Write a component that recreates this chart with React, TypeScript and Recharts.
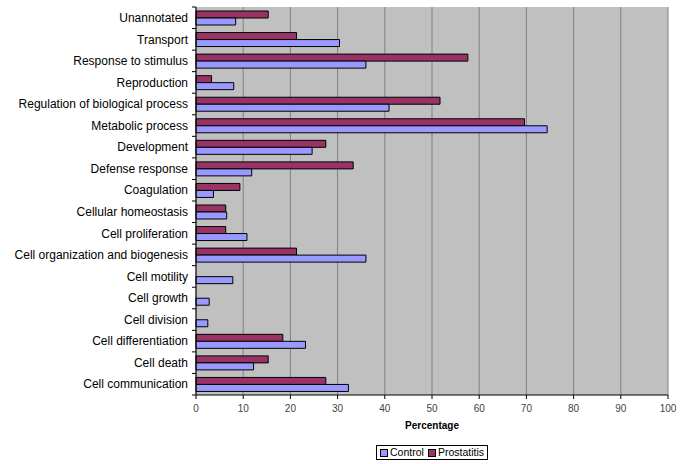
import React from "react";
import {
  BarChart,
  Bar,
  XAxis,
  YAxis,
  CartesianGrid,
  Legend,
  Label,
} from "recharts";

const categories = [
  "Unannotated",
  "Transport",
  "Response to stimulus",
  "Reproduction",
  "Regulation of biological process",
  "Metabolic process",
  "Development",
  "Defense response",
  "Coagulation",
  "Cellular homeostasis",
  "Cell proliferation",
  "Cell organization and biogenesis",
  "Cell motility",
  "Cell growth",
  "Cell division",
  "Cell differentiation",
  "Cell death",
  "Cell communication",
];

const controlValues = [
  8.4, 30.4, 36.0, 8.0, 40.9, 74.4, 24.6, 11.8, 3.7, 6.5, 10.8, 36.0, 7.8, 2.8,
  2.5, 23.2, 12.2, 32.3,
];

const prostatitisValues = [
  15.3, 21.3, 57.6, 3.3, 51.7, 69.6, 27.5, 33.3, 9.3, 6.3, 6.3, 21.3, 0, 0, 0,
  18.4, 15.3, 27.5,
];

const xTicks = [0, 10, 20, 30, 40, 50, 60, 70, 80, 90, 100];

const CONTROL = "#9999FF";
const PROSTATITIS = "#993366";

const data = categories.map((name, i) => ({
  name,
  control: controlValues[i],
  prostatitis: prostatitisValues[i],
}));

function CategoryTick(props: any) {
  const { x, y, payload, index, visibleTicksCount } = props;
  const half = payload.offset ?? 0;
  const isLast = index === visibleTicksCount - 1;
  return (
    <g>
      <text x={x} y={y} dy="0.35em" textAnchor="end" fontSize={12} fill="#000">
        {payload.value}
      </text>
      <line x1={x + 4} x2={x + 8} y1={y - half} y2={y - half} stroke="#000" />
      {isLast && (
        <line x1={x + 4} x2={x + 8} y1={y + half} y2={y + half} stroke="#000" />
      )}
    </g>
  );
}

function LegendBox() {
  const swatch = (color: string) => (
    <span
      style={{
        display: "inline-block",
        width: 6,
        height: 6,
        background: color,
        border: "1px solid #000",
        marginRight: 2,
      }}
    />
  );
  return (
    <div
      style={{
        display: "flex",
        justifyContent: "center",
        paddingLeft: 196,
        paddingTop: 10,
      }}
    >
      <div
        style={{
          border: "1px solid #000",
          fontSize: 10.5,
          lineHeight: "13px",
          padding: "0px 3px",
          display: "flex",
          alignItems: "center",
          gap: 4,
          color: "#000",
        }}
      >
        <span style={{ display: "flex", alignItems: "center" }}>
          {swatch(CONTROL)}Control
        </span>
        <span style={{ display: "flex", alignItems: "center" }}>
          {swatch(PROSTATITIS)}Prostatitis
        </span>
      </div>
    </div>
  );
}

export default function App() {
  return (
    <div
      style={{
        position: "absolute",
        left: 0,
        top: 0,
        width: 685,
        height: 464,
        background: "#fff",
        fontFamily: "Arial, 'Liberation Sans', sans-serif",
      }}
    >
      <BarChart
        width={685}
        height={464}
        data={data}
        layout="vertical"
        margin={{ top: 7, right: 17, bottom: 0, left: 0 }}
        barGap={0}
        barSize={7}
      >
        <CartesianGrid
          horizontal={false}
          stroke="#808080"
          fill="#C0C0C0"
          fillOpacity={1}
        />
        <XAxis
          type="number"
          domain={[0, 100]}
          ticks={xTicks}
          interval={0}
          height={40}
          tickSize={4}
          tickMargin={6}
          axisLine={{ stroke: "#000" }}
          tickLine={{ stroke: "#000" }}
          tick={{ fontSize: 10, fill: "#444" }}
        >
          <Label
            value="Percentage"
            position="insideBottom"
            offset={6}
            style={{ fontSize: 10, fontWeight: "bold", fill: "#000" }}
          />
        </XAxis>
        <XAxis
          xAxisId="top"
          type="number"
          orientation="top"
          domain={[0, 100]}
          height={0}
          tick={false}
          tickLine={false}
          axisLine={{ stroke: "#808080" }}
        />
        <YAxis
          type="category"
          dataKey="name"
          width={196}
          interval={0}
          tickSize={4}
          tickMargin={4}
          tickLine={false}
          axisLine={{ stroke: "#000" }}
          tick={<CategoryTick />}
        />
        <Legend verticalAlign="bottom" height={29} content={<LegendBox />} />
        <Bar
          dataKey="prostatitis"
          name="Prostatitis"
          fill={PROSTATITIS}
          stroke="#000"
          strokeWidth={1}
          isAnimationActive={false}
        />
        <Bar
          dataKey="control"
          name="Control"
          fill={CONTROL}
          stroke="#000"
          strokeWidth={1}
          isAnimationActive={false}
        />
      </BarChart>
    </div>
  );
}
